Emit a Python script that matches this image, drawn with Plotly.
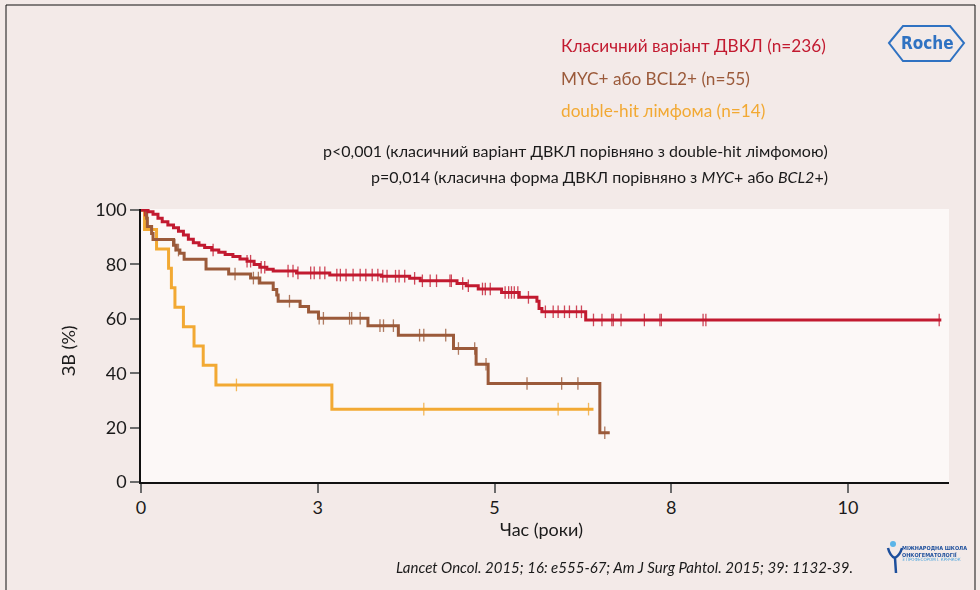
import bisect
import plotly.graph_objects as go

# ---------------- data ----------------
red_t = [0, 0.1, 0.17, 0.24, 0.3, 0.38, 0.46, 0.53, 0.6, 0.67, 0.74, 0.82, 0.9, 1.0, 1.1, 1.19,
         1.3, 1.4, 1.5, 1.6, 1.68, 1.78, 1.87, 2.2, 2.67, 3.4, 3.8, 3.95, 4.47, 4.6, 4.77, 5.1,
         5.35, 5.6, 5.63, 5.67, 6.29]
red_s = [100, 99.4, 98.5, 97.0, 95.7, 94.5, 93.5, 92.2, 90.8, 89.3, 88.0, 87.1, 86.2, 85.3, 84.5, 83.7,
         82.9, 82.0, 81.2, 80.0, 79.0, 78.2, 77.6, 76.9, 76.1, 75.7, 74.9, 74.0, 73.0, 72.2, 71.0, 69.7,
         67.9, 66.5, 63.8, 62.6, 59.6]
red_end = 11.32
red_cens = [0.05, 1.02, 1.5, 1.55, 1.7, 1.75, 2.08, 2.15, 2.22, 2.4, 2.45, 2.53, 2.6, 2.77, 2.82, 2.9,
            3.0, 3.1, 3.18, 3.27, 3.35, 3.42, 3.48, 3.6, 3.65, 3.73, 3.87, 3.98, 4.09, 4.18, 4.37, 4.39,
            4.55, 4.63, 4.83, 4.87, 4.94, 5.15, 5.2, 5.24, 5.28, 5.33, 5.48, 5.72, 5.83, 5.9, 5.99, 6.06,
            6.16, 6.23, 6.4, 6.52, 6.66, 6.68, 6.79, 7.12, 7.34, 7.36, 7.95, 7.99, 11.29]

brown_t = [0, 0.08, 0.09, 0.15, 0.17, 0.46, 0.5, 0.55, 0.61, 0.92, 1.24, 1.55, 1.68, 1.87, 1.92, 1.94,
           2.25, 2.37, 2.51, 3.21, 3.64, 4.42, 4.74, 4.91, 6.49]
brown_s = [100, 97.0, 94.0, 91.4, 89.2, 87.1, 85.3, 84.1, 81.9, 78.3, 76.5, 75.0, 73.2, 70.8, 68.8, 66.5,
           64.5, 62.5, 60.2, 57.5, 54.0, 49.1, 43.3, 36.2, 18.1]
brown_end = 6.63
brown_cens = [0.48, 0.53, 1.33, 1.59, 1.66, 2.1, 2.52, 2.58, 2.95, 2.98, 3.1, 3.38, 3.43, 3.57, 3.94,
              4.0, 4.31, 4.49, 4.72, 4.88, 5.46, 5.95, 6.18, 6.56]

orange_t = [0, 0.05, 0.22, 0.39, 0.43, 0.48, 0.6, 0.75, 0.88, 1.06, 2.7]
orange_s = [100, 92.9, 85.7, 78.6, 71.4, 64.3, 57.1, 50.0, 42.9, 35.7, 26.8]
orange_end = 6.4
orange_cens = [1.35, 4.0, 5.9, 6.33]

series_names = ["Класичний варіант ДВКЛ (n=236)", "MYC+ або BCL2+ (n=55)", "double-hit лімфома (n=14)"]
x_tickvals = [0, 2.5, 5, 7.5, 10]
x_ticktext = ["0", "3", "5", "8", "10"]
y_tickvals = [0, 20, 40, 60, 80, 100]

# ---------------- styling ----------------
RED = "#c21a30"
BROWN = "#9b5a3a"
ORANGE = "#f2a933"
BLUE = "#2f72c2"
BG = "#f3eae8"
PLOT_BG = "#fcf8f7"
FONT = "Lato, 'Open Sans', sans-serif"
NARROW = "'Liberation Sans Narrow', 'DejaVu Sans Condensed', sans-serif"

L, R, T, B = 141, 949, 209, 482


def px(x):
    return (x - L) / (R - L)


def py(y):
    return (B - y) / (B - T)


def step_val(ts, ss, t):
    i = bisect.bisect_right(ts, t) - 1
    return ss[max(i, 0)]


fig = go.Figure()
curves = [
    (red_t, red_s, red_end, red_cens, RED, series_names[0]),
    (brown_t, brown_s, brown_end, brown_cens, BROWN, series_names[1]),
    (orange_t, orange_s, orange_end, orange_cens, ORANGE, series_names[2]),
]
for ts, ss, end, cens, col, name in reversed(curves):
    fig.add_trace(go.Scatter(
        x=list(ts) + [end], y=list(ss) + [ss[-1]], mode="lines", line_shape="hv",
        line=dict(color=col, width=3), name=name, showlegend=False, hoverinfo="skip"))
    fig.add_trace(go.Scatter(
        x=cens, y=[step_val(ts, ss, c) for c in cens], mode="markers",
        marker=dict(symbol="line-ns", size=9, line=dict(color=col, width=1.3)),
        opacity=0.8, showlegend=False, hoverinfo="skip"))

annotations = []
legend_y = [46, 79, 111]
for (ts, ss, end, cens, col, name), yy in zip(curves, legend_y):
    annotations.append(dict(x=px(559), y=py(yy), xref="paper", yref="paper", text=name,
                            showarrow=False, xanchor="left", yanchor="middle",
                            font=dict(size=17.2, color=col, family=FONT)))

annotations += [
    dict(x=px(830), y=py(150), xref="paper", yref="paper",
         text="p<0,001 (класичний варіант ДВКЛ порівняно з double-hit лімфомою)",
         showarrow=False, xanchor="right", yanchor="middle",
         font=dict(size=16, color="#1a1a1a", family=FONT)),
    dict(x=px(830), y=py(176), xref="paper", yref="paper",
         text="p=0,014 (класична форма ДВКЛ порівняно з <i>MYC</i>+ або <i>BCL2</i>+)",
         showarrow=False, xanchor="right", yanchor="middle",
         font=dict(size=16, color="#1a1a1a", family=FONT)),
    dict(x=px(68), y=py(351), xref="paper", yref="paper", text="ЗВ (%)", textangle=-90,
         showarrow=False, xanchor="center", yanchor="middle",
         font=dict(size=18, color="#1a1a1a", family=FONT)),
    dict(x=px(541), y=py(529), xref="paper", yref="paper", text="Час (роки)",
         showarrow=False, xanchor="center", yanchor="middle",
         font=dict(size=18, color="#1a1a1a", family=FONT)),
    dict(x=px(855), y=py(567), xref="paper", yref="paper",
         text="<i>Lancet Oncol. 2015; 16: e555-67; Am J Surg Pahtol. 2015; 39: 1132-39.</i>",
         showarrow=False, xanchor="right", yanchor="middle",
         font=dict(size=15, color="#1a1a1a", family=FONT)),
    dict(x=px(927), y=py(43), xref="paper", yref="paper", text="<b>Roche</b>",
         showarrow=False, xanchor="center", yanchor="middle",
         font=dict(size=17, color=BLUE, family=NARROW)),
    dict(x=px(900), y=py(548), xref="paper", yref="paper", text="<b>МІЖНАРОДНА ШКОЛА</b>",
         showarrow=False, xanchor="left", yanchor="middle",
         font=dict(size=5.5, color="#1d4f9c", family=NARROW)),
    dict(x=px(900), y=py(554), xref="paper", yref="paper", text="<b>ОНКОГЕМАТОЛОГІЇ</b>",
         showarrow=False, xanchor="left", yanchor="middle",
         font=dict(size=5.5, color="#1d4f9c", family=NARROW)),
    dict(x=px(900), y=py(559.5), xref="paper", yref="paper", text="З ПРОФЕСОРОМ І. КРЯЧКОК",
         showarrow=False, xanchor="left", yanchor="middle",
         font=dict(size=4.5, color="#4aa3dc", family=NARROW)),
]

hexagon = "M {} {} L {} {} L {} {} L {} {} L {} {} L {} {} Z".format(
    px(889), py(43), px(903), py(26), px(950), py(26), px(964), py(43), px(950), py(61), px(903), py(61))
person = "M {} {} Q {} {} {} {} L {} {} M {} {} Q {} {} {} {}".format(
    px(888), py(548), px(890), py(556), px(895), py(558), px(896), py(573),
    px(902), py(548), px(900), py(555), px(895), py(558))

shapes = [
    dict(type="rect", xref="paper", yref="paper", x0=px(6), y0=py(5), x1=px(975), y1=py(600),
         line=dict(color="#111111", width=1), fillcolor="rgba(0,0,0,0)", layer="below"),
    dict(type="path", xref="paper", yref="paper", path=hexagon, line=dict(color=BLUE, width=2)),
    dict(type="path", xref="paper", yref="paper", path=person, line=dict(color="#1d4f9c", width=2.5)),
    dict(type="circle", xref="paper", yref="paper", x0=px(890), y0=py(541), x1=px(896), y1=py(547),
         fillcolor="#5bb5e8", line=dict(width=0)),
]

fig.update_layout(
    width=980, height=590, autosize=False,
    margin=dict(l=L, r=980 - R, t=T, b=590 - B, pad=0),
    paper_bgcolor=BG, plot_bgcolor=PLOT_BG,
    font=dict(family=FONT, color="#1a1a1a"),
    showlegend=False,
    annotations=annotations,
    shapes=shapes,
    xaxis=dict(range=[0, (R - L) / 70.7], showline=True, linecolor="#111111", linewidth=1.5,
               ticks="outside", ticklen=9, tickwidth=2, tickcolor="#6b6b6b",
               tickvals=x_tickvals, ticktext=x_ticktext, tickfont=dict(size=18),
               showgrid=False, zeroline=False, fixedrange=True),
    yaxis=dict(range=[0, 100.4], showline=True, linecolor="#111111", linewidth=1.5,
               ticks="outside", ticklen=9, tickwidth=2, tickcolor="#6b6b6b",
               tickvals=y_tickvals, tickfont=dict(size=18),
               showgrid=False, zeroline=False, fixedrange=True),
)

fig.write_html(
    "out.html",
    config={"displayModeBar": False},
    post_script="document.body.style.margin='0';document.body.style.overflow='hidden';",
)
